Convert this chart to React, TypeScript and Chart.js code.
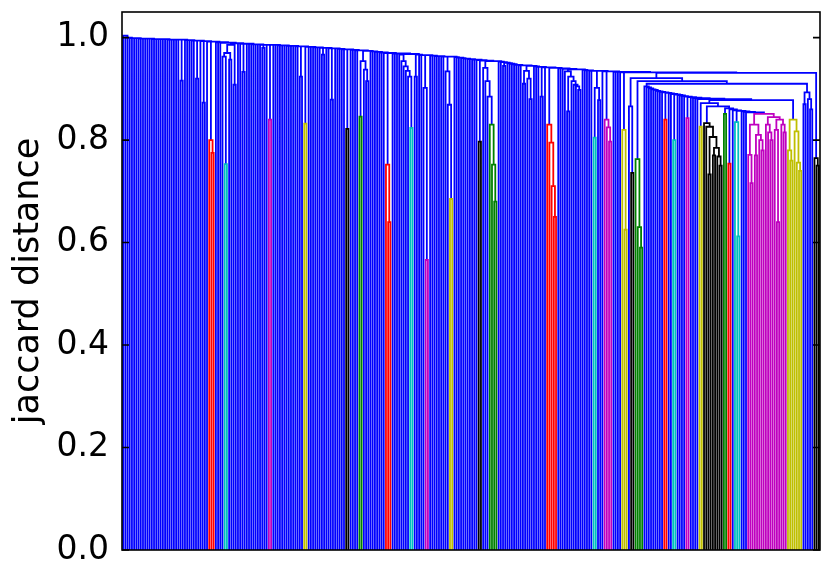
import { useEffect, useRef } from 'react';
import { Chart, registerables } from 'chart.js';

Chart.register(...registerables);

type Node = string | [number, Node, Node];
type ChainEntry = number | [number, Node];

// ---- axis ----
const yTicks = [0, 0.2, 0.4, 0.6, 0.8, 1.0];
const yMax = 1.05;
const yAxisTitle = 'jaccard distance';

// leaf colour codes -> colours
const colorCodes = ['b', 'g', 'r', 'c', 'm', 'y', 'k'];
const colorValues = ['#0000ff', '#008000', '#ff0000', '#00bfbf', '#bf00bf', '#bfbf00', '#000000'];

// ---- coloured clusters (leaf colour letters and merge heights) ----
const redA: Node = [0.80, 'r', [0.775, 'r', 'r']];
const cyanA: Node = [0.753, 'c', 'c'];
const magA: Node = [0.84, 'm', 'm'];
const yelA: Node = [0.832, 'y', 'y'];
const blkA: Node = [0.822, 'k', 'k'];
const grnA: Node = [0.846, 'g', 'g'];
const redB: Node = [0.752, 'r', [0.64, 'r', 'r']];
const cyanB: Node = [0.824, 'c', 'c'];
const magB: Node = [0.566, 'm', 'm'];
const yelB: Node = [0.685, 'y', 'y'];
const blkB: Node = [0.797, 'k', 'k'];
const grnB: Node = [0.83, 'g', [0.752, 'g', [0.68, 'g', 'g']]];
const redC: Node = [0.83, 'r', [0.795, 'r', [0.71, 'r', [0.65, 'r', 'r']]]];
const cyanC: Node = [0.805, 'c', 'c'];
const magC: Node = [0.84, 'm', [0.825, 'm', [0.797, 'm', 'm']]];
const yelC: Node = [0.82, 'y', [0.625, 'y', 'y']];
const blkC: Node = [0.736, 'k', 'k'];
const grnC: Node = [0.763, 'g', [0.63, 'g', [0.59, 'g', 'g']]];
const redD: Node = [0.84, 'r', 'r'];
const cyanD: Node = [0.80, 'c', 'c'];
const magD: Node = [0.843, 'm', 'm'];
const yelD: Node = [0.826, 'y', 'y'];
const blkD: Node = [0.833, 'k', [0.826, 'k', [0.806, [0.733, 'k', 'k'], [0.785, [0.77, 'k', 'k'], [0.768, 'k', [0.75, 'k', 'k']]]]]];
const grnD: Node = [0.851, 'g', 'g'];
const redE: Node = [0.754, 'r', 'r'];
const cyanE: Node = [0.835, 'c', [0.612, 'c', 'c']];
const magE: Node = [0.851,
  [0.83, [0.771, 'm', [0.716, 'm', 'm']], [0.81, [0.77, 'm', 'm'], [0.80, 'm', [0.78, 'm', 'm']]]],
  [0.845, [0.83, 'm', [0.815, 'm', [0.80, 'm', 'm']]], [0.84, [0.82, 'm', [0.64, 'm', 'm']], [0.83, 'm', [0.815, 'm', 'm']]]]];
const yelE: Node = [0.84, [0.78, 'y', [0.76, 'y', 'y']], [0.817, 'y', [0.756, 'y', [0.74, 'y', 'y']]]];
const blkE: Node = [0.765, 'k', [0.75, 'k', 'k']];

// ---- small blue sub-structures ----
const cyanKnotA: Node = [0.986, [0.97, [0.963, 'b', cyanA], [0.957, 'b', 'b']], [0.908, 'b', 'b']];
const greenKnot: Node = [0.954, grnA, [0.9375, 'b', [0.915, 'b', 'b']]];
const cyanStair: Node = [0.967, 'b', [0.954, 'b', [0.944, 'b', [0.935, 'b', [0.924, 'b', cyanB]]]]];
const greenStair: Node = [0.941, 'b', [0.915, 'b', [0.885, 'b', grnB]]];
const blueKnot: Node = [0.935, [0.91, 'b', 'b'], [0.92, 'b', [0.88, 'b', 'b']]];
const blueStair: Node = [0.934, 'b', [0.924, [0.856, 'b', 'b'], [0.915, 'b', [0.908, 'b', [0.905, 'b', [0.898, 'b', 'b']]]]]];
const cyanKnotC: Node = [0.902, cyanC, [0.878, 'b', 'b']];
const blueTail: Node = [0.893, [0.87, 'b', 'b'], [0.88, 'b', [0.86, 'b', 'b']]];

// ---- main chain, left to right: each entry joins everything on its right at its height ----
const mainChain: ChainEntry[] = [
  1.004,
  1.0, 1.0, 0.999, 0.999, 0.999, 0.999, 0.998, 0.998, 0.998, 0.998, 0.998, 0.998, 0.997,
  0.997, 0.997, 0.997, 0.997, 0.997, 0.997, 0.996, 0.996, 0.996, 0.996, 0.996, 0.996,
  [0.996, [0.916, 'b', 'b']],
  0.995, 0.995, 0.995, 0.994, 0.994,
  [0.994, [0.92, 'b', 'b']],
  0.993,
  [0.993, [0.873, 'b', 'b']],
  0.992,
  [0.992, redA],
  0.991, 0.991, 0.99,
  [0.989, cyanKnotA],
  0.989, 0.988,
  [0.988, [0.933, 'b', 'b']],
  0.988, 0.988, 0.987, 0.987, 0.987, 0.987, 0.986,
  [0.986, [0.98, 'b', 'b']],
  0.986,
  [0.986, magA],
  0.986, 0.986, 0.985, 0.985, 0.985, 0.985, 0.984, 0.984, 0.984, 0.984, 0.983, 0.983,
  [0.983, [0.924, 'b', 'b']],
  [0.982, yelA],
  0.982, 0.982, 0.981, 0.981, 0.981, 0.98,
  [0.98, [0.967, 'b', 'b']],
  0.98, 0.979,
  [0.979, [0.879, 'b', 'b']],
  0.979, 0.978, 0.978, 0.977, 0.977,
  [0.977, blkA],
  0.976, 0.976, 0.975, 0.975,
  [0.974, greenKnot],
  0.973, 0.973, 0.972, 0.972, 0.971, 0.971, 0.97,
  [0.97, redB],
  0.969, 0.969, 0.969,
  [0.968, cyanStair],
  [0.967, [0.924, 'b', 'b']],
  0.966, 0.966,
  [0.966, [0.902, 'b', magB]],
  0.965, 0.965, 0.964, 0.964, 0.964, 0.963, 0.963,
  [0.963, [0.934, 'b', [0.869, 'b', yelB]]],
  0.962, 0.961, 0.961, 0.96, 0.959, 0.959, 0.958, 0.958, 0.957, 0.957, 0.956,
  [0.955, blkB],
  [0.954, greenStair],
  0.953, 0.952,
  [0.951, [0.945, 'b', 'b']],
  0.95, 0.949, 0.948, 0.947, 0.947, 0.946, 0.946,
  [0.945, blueKnot],
  0.944, 0.943, 0.943,
  [0.942, [0.885, 'b', 'b']],
  0.942,
  [0.941, redC],
  0.94, 0.94, 0.939,
  [0.938, blueStair],
  0.937, 0.936, 0.936, 0.935, 0.935,
  [0.935, cyanKnotC],
  0.934,
  [0.934, magC],
  0.933, 0.933, 0.933, 0.932,
  [0.932, yelC],
];

// ---- right-hand part ----
const rightChain: ChainEntry[] = [
  0.905, 0.903, 0.901, 0.899, 0.898, 0.896, 0.895, 0.894, 0.893,
  [0.892, redD],
  0.891, 0.89,
  [0.889, cyanD],
  0.888, 0.887, 0.886, 0.885,
  [0.884, magD],
  0.883, 0.882, 0.881, 0.88,
];
const innerChain: ChainEntry[] = [
  [0.872, yelD],
  [0.866, blkD],
  [0.862, grnD],
  [0.86, redE],
  0.858,
  [0.857, cyanE],
  0.856, 0.855, 0.854,
];
const innerJoin = 0.878; // inner chain + yellow cluster
const tailJoin = 0.91; // right chain + blue tail
const greenJoin = 0.915;
const blackJoin = 0.921;
const blackInner = 0.866;
const rightTop = 0.931;

function foldChain(entries: ChainEntry[], last: Node): Node {
  let node = last;
  for (let i = entries.length - 1; i >= 0; i--) {
    const e = entries[i];
    const h = typeof e === 'number' ? e : e[0];
    const item: Node = typeof e === 'number' ? 'b' : e[1];
    node = [h, item, node];
  }
  return node;
}

function buildTree(): Node {
  const inner: Node = [innerJoin, foldChain(innerChain, magE), yelE];
  const a4 = foldChain(rightChain, inner);
  const a3: Node = [tailJoin, a4, blueTail];
  const a2: Node = [greenJoin, grnC, a3];
  const a: Node = [blackJoin, [blackInner, 'b', blkC], a2];
  const right: Node = [rightTop, a, blkE];
  return foldChain(mainChain, right);
}

function buildSegments(root: Node) {
  const segs: Record<string, { x: number; y: number }[]> = {};
  let leaf = 0;
  const walk = (n: Node): { x: number; h: number; c: string } => {
    if (typeof n === 'string') {
      const x = leaf * 10 + 5;
      leaf++;
      return { x, h: 0, c: n };
    }
    const [h, l, r] = n;
    const a = walk(l);
    const b = walk(r);
    let c = '*';
    if (a.c === b.c && a.c !== '*') c = a.c;
    const draw = c === '*' ? 'b' : c;
    (segs[draw] ||= []).push(
      { x: a.x, y: a.h }, { x: a.x, y: h }, { x: b.x, y: h }, { x: b.x, y: b.h }, { x: NaN, y: NaN }
    );
    return { x: (a.x + b.x) / 2, h, c };
  };
  walk(root);
  return { segs, n: leaf };
}

const framePlugin = {
  id: 'frame',
  afterDatasetsDraw(chart: any) {
    const { ctx, chartArea, scales } = chart;
    const { left, right, top, bottom } = chartArea;
    ctx.save();
    ctx.strokeStyle = '#000';
    ctx.lineWidth = 1.6;
    ctx.strokeRect(left, top, right - left, bottom - top);
    for (const v of yTicks) {
      const py = scales.y.getPixelForValue(v);
      ctx.beginPath();
      ctx.moveTo(left, py);
      ctx.lineTo(left + 7, py);
      ctx.moveTo(right, py);
      ctx.lineTo(right - 7, py);
      ctx.stroke();
    }
    ctx.restore();
  },
};

export default function App() {
  const ref = useRef<HTMLCanvasElement>(null);
  useEffect(() => {
    document.body.style.margin = '0';
    const { segs, n } = buildSegments(buildTree());
    const order = ['k', 'y', 'm', 'c', 'r', 'g', 'b'];
    const datasets = order
      .filter((c) => segs[c])
      .map((c) => ({
        label: c,
        data: segs[c],
        showLine: true,
        pointRadius: 0,
        borderWidth: 1.8,
        borderColor: colorValues[colorCodes.indexOf(c)],
        backgroundColor: colorValues[colorCodes.indexOf(c)],
        fill: false,
        spanGaps: false,
      }));
    const chart = new Chart(ref.current!, {
      type: 'scatter',
      data: { datasets },
      options: {
        animation: false,
        responsive: false,
        events: [],
        layout: { padding: { left: 0, top: 12, right: 11, bottom: 31 } },
        plugins: { legend: { display: false }, tooltip: { enabled: false } },
        scales: {
          x: { type: 'linear', min: 0, max: n * 10, display: false },
          y: {
            type: 'linear',
            min: 0,
            max: yMax,
            afterBuildTicks: (scale: any) => {
              scale.ticks = yTicks.map((v) => ({ value: v }));
            },
            afterFit: (scale: any) => {
              scale.width = 122;
              scale.paddingTop = 0;
              scale.paddingBottom = 0;
            },
            grid: { display: false, drawTicks: false },
            border: { display: false },
            ticks: {
              padding: 13,
              color: '#000',
              font: { family: 'DejaVu Sans', size: 33 },
              callback: (v: any) => Number(v).toFixed(1),
            },
            title: {
              display: true,
              text: yAxisTitle,
              color: '#000',
              font: { family: 'DejaVu Sans', size: 35 },
              padding: { top: 8, bottom: 0 },
            },
          },
        },
      },
      plugins: [framePlugin],
    });
    return () => chart.destroy();
  }, []);
  return <canvas ref={ref} width={831} height={581} />;
}
